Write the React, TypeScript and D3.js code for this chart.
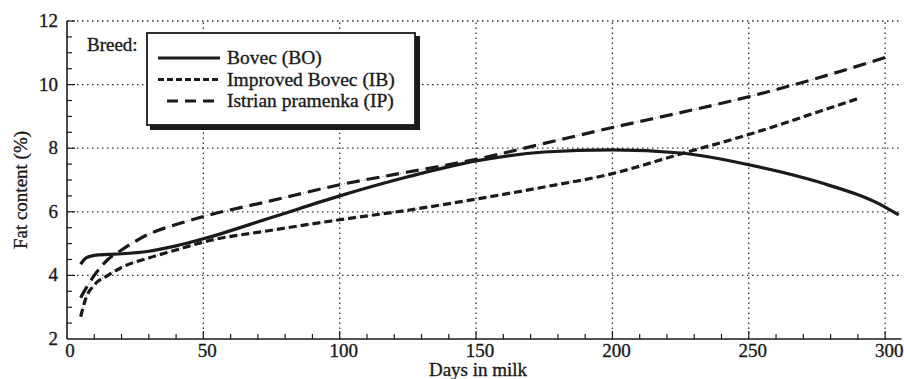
import React, { useEffect, useRef } from 'react';
import * as d3 from 'd3';

// lactation curves, fat content (%) by days in milk
const boDays = [5, 7, 10, 15, 20, 30, 40, 50, 75, 100, 125, 150, 175, 200, 225, 250, 275, 300, 305];
const boFat = [4.35, 4.55, 4.63, 4.66, 4.68, 4.76, 4.93, 5.15, 5.82, 6.5, 7.1, 7.6, 7.88, 7.95, 7.85, 7.48, 6.95, 6.15, 5.9];

const ibDays = [5, 7, 10, 15, 20, 30, 40, 50, 75, 100, 125, 150, 175, 200, 225, 250, 275, 290];
const ibFat = [2.7, 3.3, 3.7, 4.0, 4.25, 4.55, 4.8, 5.05, 5.42, 5.75, 6.05, 6.4, 6.78, 7.2, 7.82, 8.43, 9.13, 9.56];

const ipDays = [5, 7, 10, 15, 20, 30, 40, 50, 75, 100, 125, 150, 175, 200, 225, 250, 275, 300];
const ipFat = [3.3, 3.6, 4.0, 4.5, 4.8, 5.3, 5.6, 5.85, 6.35, 6.85, 7.25, 7.65, 8.15, 8.65, 9.12, 9.62, 10.2, 10.85];

const xTicks = [0, 50, 100, 150, 200, 250, 300];
const yTicks = [2, 4, 6, 8, 10, 12];
const breeds = ['Bovec (BO)', 'Improved Bovec (IB)', 'Istrian pramenka (IP)'];

const App: React.FC = () => {
    const ref = useRef<SVGSVGElement>(null);

    useEffect(() => {
        const svg = d3.select(ref.current);
        svg.selectAll('*').remove();

        const x = d3.scaleLinear().domain([0, 306]).range([67, 901.5]);
        const y = d3.scaleLinear().domain([2, 12]).range([339, 21]);
        const font = 'Liberation Serif, Times New Roman, serif';
        const ink = '#1a1a1a';

        // dotted grid
        const grid = svg.append('g').attr('stroke', '#333').attr('stroke-width', 1.3)
            .attr('stroke-dasharray', '1.5,3.5');
        xTicks.filter(t => t > 0).forEach(t => {
            grid.append('line').attr('x1', x(t)).attr('x2', x(t)).attr('y1', y(2)).attr('y2', y(12));
        });
        yTicks.filter(t => t > 2).forEach(t => {
            grid.append('line').attr('x1', x(0)).attr('x2', x(306)).attr('y1', y(t)).attr('y2', y(t));
        });

        // axes
        const axes = svg.append('g').attr('stroke', ink).attr('stroke-width', 1.6);
        axes.append('line').attr('x1', x(0)).attr('x2', x(306)).attr('y1', y(2)).attr('y2', y(2));
        axes.append('line').attr('x1', x(0)).attr('x2', x(0)).attr('y1', y(2)).attr('y2', y(12));
        d3.range(10, 306, 10).forEach(t => {
            const len = t % 50 === 0 ? 8 : 5;
            axes.append('line').attr('stroke-width', 1.2).attr('x1', x(t)).attr('x2', x(t))
                .attr('y1', y(2)).attr('y2', y(2) - len);
        });
        d3.range(2.5, 12.01, 0.5).forEach(t => {
            const len = t % 2 === 0 ? 8 : 5;
            axes.append('line').attr('stroke-width', 1.2).attr('x1', x(0)).attr('x2', x(0) + len)
                .attr('y1', y(t)).attr('y2', y(t));
        });

        const txt = (sel: any, size: number) => sel.attr('font-family', font).attr('font-size', size)
            .attr('fill', ink).attr('stroke', ink).attr('stroke-width', 0.35);

        txt(svg.append('g').selectAll('text').data(xTicks).enter().append('text')
            .attr('x', d => x(d) + (d === 0 ? 3 : 4)).attr('y', 357)
            .attr('text-anchor', 'middle'), 19).text(d => d);
        txt(svg.append('g').selectAll('text').data(yTicks).enter().append('text')
            .attr('x', 58).attr('y', d => y(d) + 6)
            .attr('text-anchor', 'end'), 19).text(d => d);

        txt(svg.append('text').attr('x', 478).attr('y', 376).attr('text-anchor', 'middle'), 19)
            .text('Days in milk');
        txt(svg.append('text').attr('transform', 'translate(27,190) rotate(-90)').attr('text-anchor', 'middle'), 19)
            .text('Fat content (%)');

        // curves
        const line = d3.line<[number, number]>().x(d => x(d[0])).y(d => y(d[1])).curve(d3.curveMonotoneX);
        const series = [
            { pts: boDays.map((d, i) => [d, boFat[i]] as [number, number]), dash: null },
            { pts: ibDays.map((d, i) => [d, ibFat[i]] as [number, number]), dash: '8,4' },
            { pts: ipDays.map((d, i) => [d, ipFat[i]] as [number, number]), dash: '13,7' },
        ];
        series.forEach(s => {
            if (s.dash) {
                svg.append('path').attr('d', line(s.pts)).attr('fill', 'none')
                    .attr('stroke', '#555').attr('stroke-width', 0.7).attr('stroke-dasharray', '1,2');
            }
            const p = svg.append('path').attr('d', line(s.pts)).attr('fill', 'none')
                .attr('stroke', ink).attr('stroke-width', 3.2);
            if (s.dash) p.attr('stroke-dasharray', s.dash);
        });

        // legend
        txt(svg.append('text').attr('x', 87).attr('y', 51), 19).text('Breed:');
        const lg = svg.append('g');
        lg.append('rect').attr('x', 150).attr('y', 36).attr('width', 270).attr('height', 94).attr('fill', ink);
        lg.append('rect').attr('x', 147).attr('y', 33).attr('width', 268).attr('height', 92)
            .attr('fill', '#fff').attr('stroke', ink).attr('stroke-width', 1.8);
        breeds.forEach((b, i) => {
            const yy = 58 + i * 21.5;
            const l = lg.append('line').attr('x1', 158).attr('x2', 220).attr('y1', yy).attr('y2', yy)
                .attr('stroke', ink).attr('stroke-width', 3);
            if (series[i].dash) l.attr('stroke-dasharray', i === 1 ? '6,3' : '11,7')
                .attr('x1', i === 2 ? 167 : 158);
            txt(lg.append('text').attr('x', 227).attr('y', yy + 6), 19.5).text(b);
        });
    }, []);

    return <svg ref={ref} width={904} height={379}
        style={{ position: 'absolute', left: 0, top: 0, background: '#fff' }} />;
};

export default App;
